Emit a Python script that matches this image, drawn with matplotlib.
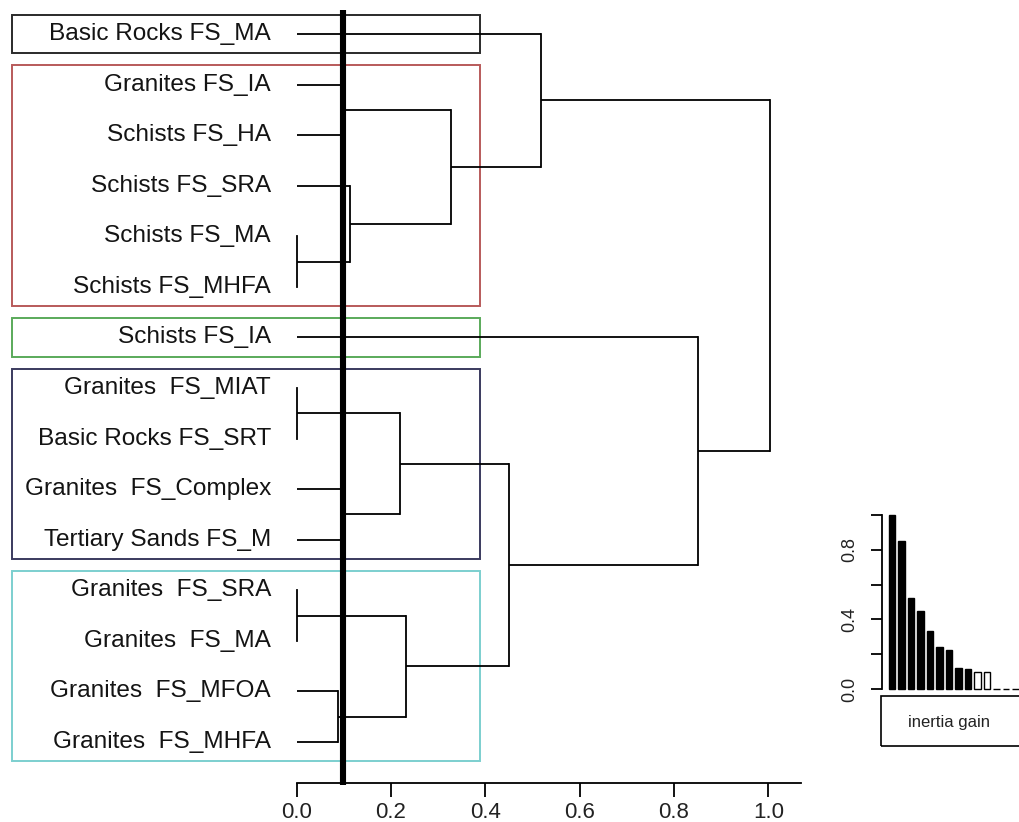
import matplotlib
matplotlib.use("Agg")
import matplotlib.pyplot as plt
from matplotlib.patches import Rectangle

plt.rcParams['font.family'] = ['Liberation Sans', 'DejaVu Sans']

# ---------------- data ----------------
leaves = ["Basic Rocks FS_MA", "Granites FS_IA", "Schists FS_HA", "Schists FS_SRA",
          "Schists FS_MA", "Schists FS_MHFA", "Schists FS_IA", "Granites  FS_MIAT",
          "Basic Rocks FS_SRT", "Granites  FS_Complex", "Tertiary Sands FS_M",
          "Granites  FS_SRA", "Granites  FS_MA", "Granites  FS_MFOA", "Granites  FS_MHFA"]

# merges: (child a, child b, height); children < 15 are leaves, >= 15 earlier merges
merge_a = [4, 7, 11, 13, 1, 9, 3, 16, 17, 19, 22, 0, 6, 26]
merge_b = [5, 8, 12, 14, 2, 10, 15, 20, 18, 21, 23, 24, 25, 27]
merge_h = [0.0, 0.0, 0.0, 0.088, 0.099, 0.099, 0.113, 0.219, 0.232, 0.327,
           0.450, 0.518, 0.850, 1.004]

cut_height = 0.0975

# groups (first leaf, last leaf, colour)
group_first = [0, 1, 6, 7, 11]
group_last = [0, 5, 6, 10, 14]
group_colors = ["#2a2a2a", "#b85a5a", "#5aaa5a", "#3a3a5e", "#7ccfcf"]

xticks = [0.0, 0.2, 0.4, 0.6, 0.8, 1.0]

inertia_gain = [1.0, 0.853, 0.525, 0.450, 0.334, 0.240, 0.227, 0.120, 0.113,
                0.099, 0.099, 0.0, 0.0, 0.0]
n_black = 9

# ---------------- figure ----------------
W, H = 1019, 822
fig = plt.figure(figsize=(W / 100, H / 100), dpi=100)

def fx(px):
    return px / W

def fy(py):
    return 1 - py / H

x0_px, x1_px = 296.7, 768.3
ppu = x1_px - x0_px
xmax = 1.07
leaf0_px, step_px = 34.0, 50.57
ax_top_px, ax_bot_px = 10.0, 783.0
ytop = (ax_top_px - leaf0_px) / step_px
ybot = (ax_bot_px - leaf0_px) / step_px

ax = fig.add_axes([fx(x0_px), fy(ax_bot_px), xmax * ppu / W, (ax_bot_px - ax_top_px) / H])
ax.set_xlim(0, xmax)
ax.set_ylim(ybot, ytop)

lw = 1.3
n = len(leaves)
pos = {i: float(i) for i in range(n)}
hgt = {i: 0.0 for i in range(n)}
for k, (a, b, h) in enumerate(zip(merge_a, merge_b, merge_h)):
    node = n + k
    ya, yb = pos[a], pos[b]
    ax.plot([hgt[a], h], [ya, ya], color='black', lw=lw, solid_capstyle='butt', clip_on=False)
    ax.plot([hgt[b], h], [yb, yb], color='black', lw=lw, solid_capstyle='butt', clip_on=False)
    ax.plot([h, h], [ya, yb], color='black', lw=lw, solid_capstyle='projecting', clip_on=False)
    pos[node] = (ya + yb) / 2
    hgt[node] = h

# labels
label_x = (271 - x0_px) / ppu
for i, name in enumerate(leaves):
    ax.text(label_x, i, name, ha='right', va='center', fontsize=17.6, color='#141414')

# group boxes
box_left = (12 - x0_px) / ppu
box_right = (480 - x0_px) / ppu
pad = 0.38
for f, l, c in zip(group_first, group_last, group_colors):
    ax.add_patch(Rectangle((box_left, f - pad), box_right - box_left, (l - f) + 2 * pad,
                           fill=False, edgecolor=c, lw=1.4, clip_on=False, zorder=1))

# cut line
ax.plot([cut_height, cut_height], [ytop, ybot + 0.04], color='black', lw=4.4,
        solid_capstyle='butt', clip_on=False, zorder=5)

# axes styling
for s in ['top', 'right', 'left']:
    ax.spines[s].set_visible(False)
ax.spines['bottom'].set_linewidth(1.3)
ax.set_yticks([])
ax.set_xticks(xticks)
ax.set_xticklabels([f"{t:.1f}" for t in xticks], fontsize=16, color='#222222')
ax.tick_params(axis='x', direction='out', length=10, width=1.3, pad=4)

# ---------------- inset: inertia gain ----------------
in_left_px, in_right_px = 882.0, 1030.0
in_bot_px, in_top_px = 689.0, 515.0
pitch = 9.5
iax = fig.add_axes([fx(in_left_px), fy(in_bot_px), (in_right_px - in_left_px) / W,
                    (in_bot_px - in_top_px) / H])
xs = list(range(1, len(inertia_gain) + 1))
xmin_in = 1 - 10.0 / pitch
iax.set_xlim(xmin_in, xmin_in + (in_right_px - in_left_px) / pitch)
iax.set_ylim(0, 1.0)
cols = ['black'] * n_black + ['white'] * (len(inertia_gain) - n_black)
iax.bar(xs, inertia_gain, width=0.64, color=cols, edgecolor='black', lw=1.0, clip_on=False)
for s in ['top', 'right', 'bottom']:
    iax.spines[s].set_visible(False)
iax.spines['left'].set_linewidth(1.3)
iax.set_xticks([])
iax.set_yticks([0.0, 0.2, 0.4, 0.6, 0.8, 1.0])
iax.set_yticklabels(["0.0", "", "0.4", "", "0.8", ""], rotation=90, va='center',
                    fontsize=13, color='#222222')
iax.tick_params(axis='y', direction='out', length=8, width=1.3, pad=9)
iax.patch.set_alpha(0)

# legend-like box with "inertia gain"
fig.patches.append(Rectangle((fx(880.5), fy(746)), (1040 - 880.5) / W, (746 - 696) / H,
                             transform=fig.transFigure, fill=False, edgecolor='black',
                             lw=1.2, figure=fig))
fig.text(fx(949), fy(722), "inertia gain", ha='center', va='center', fontsize=12,
         color='#222222')

fig.savefig("out.png", dpi=100, facecolor='white')
